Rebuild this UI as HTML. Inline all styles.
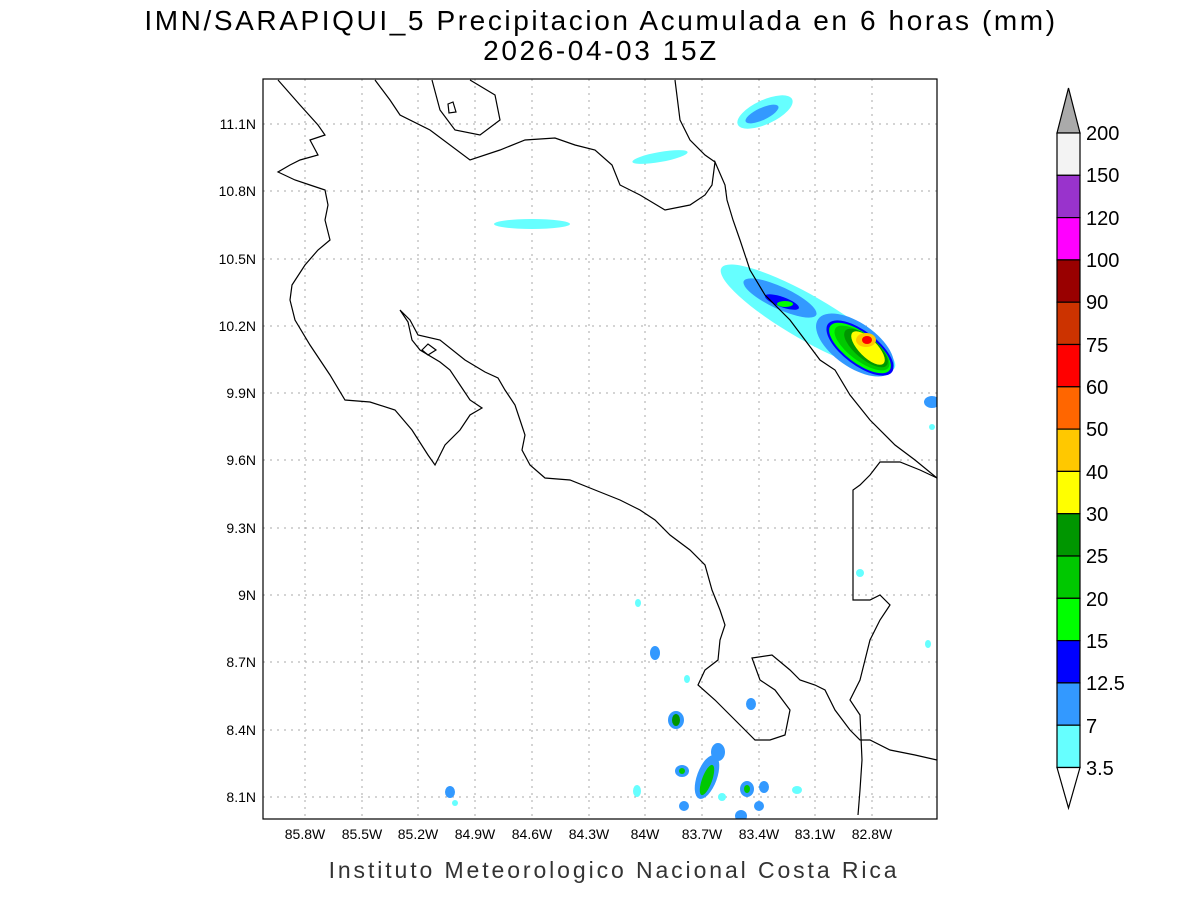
<!DOCTYPE html>
<html><head><meta charset="utf-8"><style>
body{margin:0;background:#fff;width:1200px;height:900px;overflow:hidden}
svg text{font-family:"Liberation Sans",sans-serif}
</style></head><body>
<svg width="1200" height="900" viewBox="0 0 1200 900">
<rect width="1200" height="900" fill="#fff"/>
<text x="601" y="30" font-size="28" text-anchor="middle" letter-spacing="2.6">IMN/SARAPIQUI_5 Precipitacion Acumulada en 6 horas (mm)</text>
<text x="601" y="60" font-size="28" text-anchor="middle" letter-spacing="2.6">2026-04-03 15Z</text>
<text x="614" y="878" font-size="23" text-anchor="middle" letter-spacing="2.9" fill="#333">Instituto Meteorologico Nacional Costa Rica</text>
<defs><clipPath id="c"><rect x="263" y="79" width="674" height="740"/></clipPath></defs>
<g clip-path="url(#c)">
<g stroke="#aaa" stroke-dasharray="2,5" stroke-width="1">
<line x1="305" y1="79" x2="305" y2="819"/><line x1="362" y1="79" x2="362" y2="819"/><line x1="418" y1="79" x2="418" y2="819"/><line x1="475" y1="79" x2="475" y2="819"/><line x1="532" y1="79" x2="532" y2="819"/><line x1="589" y1="79" x2="589" y2="819"/><line x1="645" y1="79" x2="645" y2="819"/><line x1="702" y1="79" x2="702" y2="819"/><line x1="759" y1="79" x2="759" y2="819"/><line x1="815" y1="79" x2="815" y2="819"/><line x1="872" y1="79" x2="872" y2="819"/>
<line x1="263" y1="124" x2="937" y2="124"/><line x1="263" y1="191" x2="937" y2="191"/><line x1="263" y1="259" x2="937" y2="259"/><line x1="263" y1="326" x2="937" y2="326"/><line x1="263" y1="393" x2="937" y2="393"/><line x1="263" y1="460" x2="937" y2="460"/><line x1="263" y1="528" x2="937" y2="528"/><line x1="263" y1="595" x2="937" y2="595"/><line x1="263" y1="662" x2="937" y2="662"/><line x1="263" y1="730" x2="937" y2="730"/><line x1="263" y1="797" x2="937" y2="797"/>
</g>
<g>
<ellipse cx="765" cy="112" rx="30" ry="12" transform="rotate(-25 765 112)" fill="#66ffff"/>
<ellipse cx="762" cy="114" rx="18" ry="6" transform="rotate(-25 762 114)" fill="#3399ff"/>
<ellipse cx="660" cy="157" rx="28" ry="5" transform="rotate(-10 660 157)" fill="#66ffff"/>
<ellipse cx="532" cy="224" rx="38" ry="5" fill="#66ffff"/>
<ellipse cx="808" cy="318" rx="100" ry="22" transform="rotate(30 808 318)" fill="#66ffff"/>
<ellipse cx="780" cy="298" rx="40" ry="11" transform="rotate(25 780 298)" fill="#3399ff"/>
<ellipse cx="855" cy="345" rx="45" ry="22" transform="rotate(35 855 345)" fill="#3399ff"/>
<ellipse cx="782" cy="302" rx="18" ry="5" transform="rotate(20 782 302)" fill="#0000ff"/>
<ellipse cx="785" cy="304" rx="8" ry="3" fill="#00ff00"/>
<ellipse cx="860" cy="348" rx="40" ry="17" transform="rotate(37 860 348)" fill="#0000ff"/>
<ellipse cx="860" cy="348" rx="37" ry="15" transform="rotate(37 860 348)" fill="#00ff00"/>
<ellipse cx="862" cy="348" rx="33" ry="13" transform="rotate(37 862 348)" fill="#00c800"/>
<ellipse cx="866" cy="348" rx="27" ry="11" transform="rotate(40 866 348)" fill="#009600"/>
<ellipse cx="868" cy="348" rx="22" ry="9" transform="rotate(45 868 348)" fill="#ffff00"/>
<ellipse cx="866" cy="340" rx="10" ry="7" fill="#ffc800"/>
<ellipse cx="867" cy="340" rx="5" ry="4" fill="#ff0000"/>
<ellipse cx="932" cy="402" rx="8" ry="6" fill="#3399ff"/>
<ellipse cx="860" cy="573" rx="4" ry="4" fill="#66ffff"/>
<ellipse cx="638" cy="603" rx="3" ry="4" fill="#66ffff"/>
<ellipse cx="655" cy="653" rx="5" ry="7" fill="#3399ff"/>
<ellipse cx="687" cy="679" rx="3" ry="4" fill="#66ffff"/>
<ellipse cx="751" cy="704" rx="5" ry="6" fill="#3399ff"/>
<ellipse cx="676" cy="720" rx="8" ry="9" fill="#3399ff"/><ellipse cx="676" cy="720" rx="4" ry="6" fill="#009600"/>
<ellipse cx="718" cy="752" rx="7" ry="9" fill="#3399ff"/>
<ellipse cx="707" cy="777" rx="10" ry="23" transform="rotate(20 707 777)" fill="#3399ff"/>
<ellipse cx="707" cy="780" rx="5" ry="16" transform="rotate(20 707 780)" fill="#00c800"/>
<ellipse cx="682" cy="771" rx="7" ry="6" fill="#3399ff"/><ellipse cx="682" cy="771" rx="3" ry="3" fill="#00c800"/>
<ellipse cx="747" cy="789" rx="7" ry="8" fill="#3399ff"/><ellipse cx="747" cy="789" rx="3" ry="4" fill="#00c800"/>
<ellipse cx="764" cy="787" rx="5" ry="6" fill="#3399ff"/>
<ellipse cx="759" cy="806" rx="5" ry="5" fill="#3399ff"/>
<ellipse cx="684" cy="806" rx="5" ry="5" fill="#3399ff"/>
<ellipse cx="741" cy="816" rx="6" ry="6" fill="#3399ff"/>
<ellipse cx="722" cy="797" rx="4" ry="4" fill="#66ffff"/>
<ellipse cx="797" cy="790" rx="5" ry="4" fill="#66ffff"/>
<ellipse cx="637" cy="791" rx="4" ry="6" fill="#66ffff"/>
<ellipse cx="450" cy="792" rx="5" ry="6" fill="#3399ff"/>
<ellipse cx="455" cy="803" rx="3" ry="3" fill="#66ffff"/>
<ellipse cx="928" cy="644" rx="3" ry="4" fill="#66ffff"/>
<ellipse cx="932" cy="427" rx="3" ry="3" fill="#66ffff"/>
</g>
<g fill="none" stroke="#000" stroke-width="1.2">
<polyline points="278,80 300,105 318,125 325,135 310,140 318,155 300,160 290,165 278,172 295,180 310,185 325,190 328,205 325,220 330,240 318,250 305,265 292,285 290,300 295,320 310,345 330,375 345,400 370,402 395,410 412,430 428,455 435,465 445,445 460,430 470,415 482,408 470,400 460,385 450,370 440,362 420,350 412,340 408,322 400,310 410,320 418,335 440,340 465,360 485,372 498,378 505,390 515,405 520,420 525,435 522,450 530,465 545,478 570,480 595,490 620,500 640,510 655,520 670,535 690,550 705,565 712,590 720,610 725,625 720,640 718,660 705,670 698,685 715,700 740,725 755,740 770,740 785,735 790,710 775,690 760,680 752,658 772,655 790,670 800,680 815,685 825,690 835,710 850,730 860,740 870,740 890,750 915,755 937,760"/>
<polyline points="937,478 920,470 900,462 880,462 870,475 860,485 853,490 853,600 870,600 880,595 890,605 880,620 870,640 860,680 850,700 860,715 862,760 860,790 858,815"/>
<polyline points="375,80 390,100 400,115 430,130 470,160 500,150 525,140 555,138 575,145 595,150 612,165 620,185 640,195 665,210 690,205 705,195 712,185 715,162 725,185 727,200 733,220 740,240 750,270 765,295 790,320 805,340 820,360 835,370 850,395 870,420 895,445 915,460 937,478"/>
<polyline points="675,80 680,120 690,140 705,155 715,162"/>
<polyline points="470,80 495,95 500,120 480,135 455,130 440,110 432,80"/>
<polygon points="448,104 453,102 456,112 449,113"/>
<polygon points="422,350 428,344 436,350 428,355"/>
</g>
</g>
<rect x="263" y="79" width="674" height="740" fill="none" stroke="#000" stroke-width="1.2"/>
<g font-size="14" text-anchor="middle">
<text x="305" y="839">85.8W</text><text x="362" y="839">85.5W</text><text x="418" y="839">85.2W</text><text x="475" y="839">84.9W</text><text x="532" y="839">84.6W</text><text x="589" y="839">84.3W</text><text x="645" y="839">84W</text><text x="702" y="839">83.7W</text><text x="759" y="839">83.4W</text><text x="815" y="839">83.1W</text><text x="872" y="839">82.8W</text>
</g>
<g font-size="14" text-anchor="end">
<text x="256" y="129">11.1N</text><text x="256" y="196">10.8N</text><text x="256" y="264">10.5N</text><text x="256" y="331">10.2N</text><text x="256" y="398">9.9N</text><text x="256" y="465">9.6N</text><text x="256" y="533">9.3N</text><text x="256" y="600">9N</text><text x="256" y="667">8.7N</text><text x="256" y="735">8.4N</text><text x="256" y="802">8.1N</text>
</g>
<g stroke="#000" stroke-width="1.2">
<polygon points="1057,133 1068.5,88 1080,133" fill="#aaaaaa"/>
<rect x="1057" y="133" width="23" height="42.3" fill="#f3f3f3"/>
<rect x="1057" y="175.3" width="23" height="42.3" fill="#9933cc"/>
<rect x="1057" y="217.6" width="23" height="42.3" fill="#ff00ff"/>
<rect x="1057" y="259.9" width="23" height="42.3" fill="#990000"/>
<rect x="1057" y="302.2" width="23" height="42.3" fill="#cc3300"/>
<rect x="1057" y="344.5" width="23" height="42.3" fill="#ff0000"/>
<rect x="1057" y="386.8" width="23" height="42.3" fill="#ff6600"/>
<rect x="1057" y="429.1" width="23" height="42.3" fill="#ffc800"/>
<rect x="1057" y="471.4" width="23" height="42.3" fill="#ffff00"/>
<rect x="1057" y="513.7" width="23" height="42.3" fill="#009600"/>
<rect x="1057" y="556" width="23" height="42.3" fill="#00c800"/>
<rect x="1057" y="598.3" width="23" height="42.3" fill="#00ff00"/>
<rect x="1057" y="640.6" width="23" height="42.3" fill="#0000ff"/>
<rect x="1057" y="682.9" width="23" height="42.3" fill="#3399ff"/>
<rect x="1057" y="725.2" width="23" height="42.3" fill="#66ffff"/>
<polygon points="1057,767.5 1068.5,808 1080,767.5" fill="#fff"/>
</g>
<g font-size="20">
<text x="1086" y="140">200</text><text x="1086" y="182">150</text><text x="1086" y="225">120</text><text x="1086" y="267">100</text><text x="1086" y="309">90</text><text x="1086" y="352">75</text><text x="1086" y="394">60</text><text x="1086" y="436">50</text><text x="1086" y="479">40</text><text x="1086" y="521">30</text><text x="1086" y="563">25</text><text x="1086" y="606">20</text><text x="1086" y="648">15</text><text x="1086" y="690">12.5</text><text x="1086" y="733">7</text><text x="1086" y="775">3.5</text>
</g>
</svg>
</body></html>
